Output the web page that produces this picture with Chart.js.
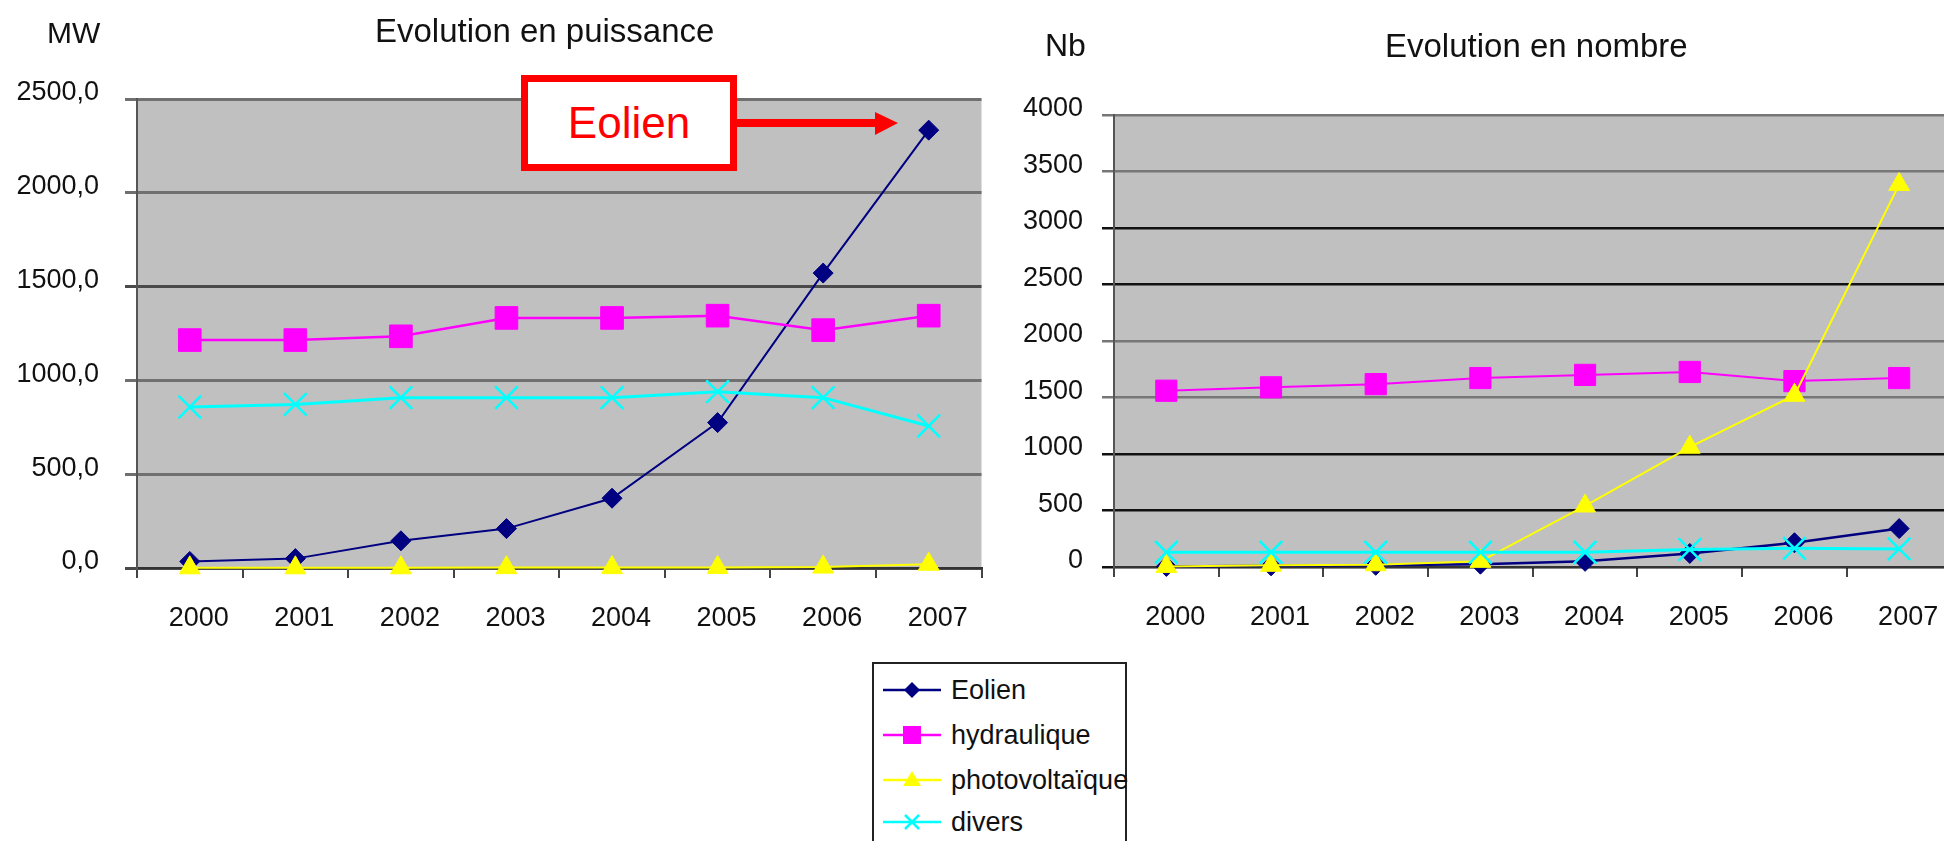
<!DOCTYPE html>
<html>
<head>
<meta charset="utf-8">
<script src="https://cdn.jsdelivr.net/npm/chart.js@4.4.1/dist/chart.umd.min.js"></script>
<style>
html,body{margin:0;padding:0;background:#fff;overflow:hidden;width:1944px;height:841px;}
#wrap{position:relative;width:1944px;height:841px;overflow:hidden;font-family:"Liberation Sans",Arial,sans-serif;color:#111;}
canvas{position:absolute;}
.lbl{position:absolute;line-height:1;white-space:nowrap;}
#annot{position:absolute;left:521px;top:75px;width:216px;height:96px;box-sizing:border-box;border:7px solid #ff0000;background:#fff;color:#ff0000;font-size:44px;display:flex;align-items:center;justify-content:center;}
#arrow{position:absolute;left:737px;top:105px;}
#legend{position:absolute;left:872px;top:662px;width:255px;height:220px;box-sizing:border-box;border:2px solid #222;background:#fff;}
.lrow{position:absolute;left:0;height:40px;width:300px;}
.lrow svg{position:absolute;left:9px;top:8px;}
.lrow span{position:absolute;left:77px;top:0;font-size:27px;line-height:40px;white-space:nowrap;}
</style>
</head>
<body>
<div id="wrap">
  <canvas id="c1" width="1000" height="660" style="left:0;top:0;"></canvas>
  <canvas id="c2" width="970" height="660" style="left:1000px;top:0;"></canvas>

  <div class="lbl" style="left:47px;top:18px;font-size:30px;">MW</div>
  <div class="lbl" style="left:375px;top:14px;font-size:33px;">Evolution en puissance</div>
  <div class="lbl" style="left:1045px;top:29px;font-size:32px;">Nb</div>
  <div class="lbl" style="left:1385px;top:29px;font-size:33px;">Evolution en nombre</div>

  <div id="annot">Eolien</div>
  <svg id="arrow" width="170" height="40">
    <rect x="0" y="14" width="142" height="8" fill="#ff0000"/>
    <polygon points="138,7 161,18 138,30" fill="#ff0000"/>
  </svg>

  <div id="legend"></div>
</div>

<script>
// ---- Data ----
const years = ['2000','2001','2002','2003','2004','2005','2006','2007'];
const seriesNames = ['Eolien','hydraulique','photovoltaïque','divers'];

// Evolution en puissance (MW)
const eolienMW         = [35, 50, 145, 210, 372, 775, 1572, 2334];
const hydrauliqueMW    = [1215, 1215, 1235, 1333, 1333, 1345, 1268, 1345];
const photovoltaiqueMW = [1, 1, 1, 2, 2, 3, 5, 20];
const diversMW         = [858, 872, 908, 908, 908, 940, 908, 757];

// Evolution en nombre (Nb)
const eolienNb         = [5, 10, 15, 25, 50, 120, 215, 340];
const hydrauliqueNb    = [1560, 1590, 1618, 1672, 1700, 1726, 1645, 1672];
const photovoltaiqueNb = [5, 15, 20, 50, 540, 1060, 1520, 3385];
const diversNb         = [130, 130, 130, 130, 130, 155, 165, 160];

// axis tick ranges
const mwTicks = {min: 0, max: 2500, step: 500};
const nbTicks = {min: 0, max: 4000, step: 500};

// ---- Styles ----
const stylesLeft = [
  {color:'#000080', point:'rectRot', radius:10, width:2, pbw:1},
  {color:'#ff00ff', point:'rect', radius:16, width:2.5, pbw:1},
  {color:'#ffff00', point:'triangle', radius:12, width:2, pbw:1},
  {color:'#00ffff', point:'crossRot', radius:16, width:3, pbw:2.5}
];
const stylesRight = [
  {color:'#000080', point:'rectRot', radius:10, width:2.5, pbw:1},
  {color:'#ff00ff', point:'rect', radius:15, width:2, pbw:1},
  {color:'#ffff00', point:'triangle', radius:12, width:2, pbw:1},
  {color:'#00ffff', point:'crossRot', radius:16, width:3, pbw:2.5}
];

const plotBg = {
  id:'plotBg',
  beforeDraw(chart){
    const {ctx, chartArea:a} = chart;
    ctx.save();
    ctx.fillStyle = '#c0c0c0';
    ctx.fillRect(a.left, a.top, a.right - a.left, a.bottom - a.top);
    ctx.restore();
  }
};

function makeDatasets(arrs, styles){
  return arrs.map((d, i) => {
    const s = styles[i];
    return {
      label: seriesNames[i], data: d,
      borderColor: s.color, backgroundColor: s.color,
      pointStyle: s.point, pointRadius: s.radius, pointHoverRadius: s.radius,
      pointBackgroundColor: s.color, pointBorderColor: s.color, pointBorderWidth: s.pbw,
      borderWidth: s.width, tension: 0, clip: false, order: 4 - i
    };
  });
}

function makeChart(id, arrs, styles, tk, fmt, padTop, padRight, yWidth, xHeight, yPad, gridColorFn, gridWidth){
  return new Chart(document.getElementById(id), {
    type: 'line',
    data: {labels: years, datasets: makeDatasets(arrs, styles)},
    plugins: [plotBg],
    options: {
      responsive: false, animation: false,
      layout: {padding: {top: padTop, right: padRight, left: 0, bottom: 0}},
      plugins: {legend: {display: false}, tooltip: {enabled: false}},
      scales: {
        x: {
          offset: true,
          grid: {offset: true, drawOnChartArea: false, tickLength: 10, color: '#444', lineWidth: 2},
          border: {display: true, color: '#333', width: 2},
          ticks: {font: {family: 'Liberation Sans', size: 27}, color: '#111', padding: 24, labelOffset: 9, maxRotation: 0, autoSkip: false},
          afterFit(s){ s.height = xHeight; }
        },
        y: {
          min: tk.min, max: tk.max,
          ticks: {stepSize: tk.step, font: {family: 'Liberation Sans', size: 27}, color: '#111', padding: yPad, labelOffset: -6, callback: fmt},
          grid: {tickLength: 12, color: gridColorFn, lineWidth: gridWidth},
          border: {display: true, color: '#555', width: 2},
          afterFit(s){ s.width = yWidth; }
        }
      }
    }
  });
}

makeChart('c1', [eolienMW, hydrauliqueMW, photovoltaiqueMW, diversMW], stylesLeft, mwTicks,
  v => v.toFixed(1).replace('.', ','), 99, 15, 137, 92, 26,
  ctx => { const v = ctx.tick.value; return (v === 0 || v === 1500) ? '#4a4a4a' : '#707070'; }, 3);

makeChart('c2', [eolienNb, hydrauliqueNb, photovoltaiqueNb, diversNb], stylesRight, nbTicks,
  v => String(v), 115, 12, 114, 93, 19,
  ctx => { const v = ctx.tick.value; return [0, 500, 1000, 2500, 3000].includes(v) ? '#111' : '#777'; }, 2.5);

// ---- Legend (HTML) ----
const legend = document.getElementById('legend');
const rowTops = [6, 51, 96, 138];
function markerSvg(s){
  const c = s.color, cx = 29, cy = 12;
  let m = '';
  if (s.point === 'rectRot') m = `<polygon points="${cx-8},${cy} ${cx},${cy-8} ${cx+8},${cy} ${cx},${cy+8}" fill="${c}"/>`;
  else if (s.point === 'rect') m = `<rect x="${cx-9}" y="${cy-9}" width="18" height="18" fill="${c}"/>`;
  else if (s.point === 'triangle') m = `<polygon points="${cx},${cy-9} ${cx+9},${cy+6} ${cx-9},${cy+6}" fill="${c}"/>`;
  else m = `<path d="M${cx-7},${cy-7} L${cx+7},${cy+7} M${cx+7},${cy-7} L${cx-7},${cy+7}" stroke="${c}" stroke-width="2.5"/>`;
  return `<svg width="60" height="24"><line x1="0" y1="${cy}" x2="58" y2="${cy}" stroke="${c}" stroke-width="2.5"/>${m}</svg>`;
}
seriesNames.forEach((n, i) => {
  const r = document.createElement('div');
  r.className = 'lrow';
  r.style.top = rowTops[i] + 'px';
  r.innerHTML = markerSvg(stylesLeft[i]) + `<span>${n}</span>`;
  legend.appendChild(r);
});
</script>
</body>
</html>
